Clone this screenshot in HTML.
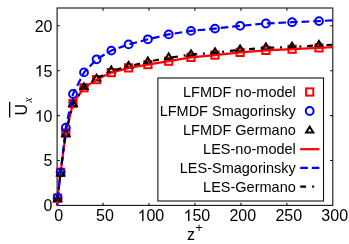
<!DOCTYPE html>
<html><head><meta charset="utf-8"><style>
html,body{margin:0;padding:0;background:#fff}
svg{display:block}
text{font-family:"Liberation Sans",sans-serif;fill:#000}
</style></head><body>
<svg width="349" height="244" viewBox="0 0 349 244" style="will-change:transform;opacity:0.999">
<rect width="349" height="244" fill="#fff"/>
<rect x="57.1" y="8.0" width="275.7" height="197.4" fill="none" stroke="#111" stroke-width="1.1"/>
<path d="M103.1,205.4 v-2.7 M103.1,8.0 v2.7" stroke="#111" stroke-width="1.1"/>
<path d="M149.0,205.4 v-2.7 M149.0,8.0 v2.7" stroke="#111" stroke-width="1.1"/>
<path d="M194.9,205.4 v-2.7 M194.9,8.0 v2.7" stroke="#111" stroke-width="1.1"/>
<path d="M240.9,205.4 v-2.7 M240.9,8.0 v2.7" stroke="#111" stroke-width="1.1"/>
<path d="M286.9,205.4 v-2.7 M286.9,8.0 v2.7" stroke="#111" stroke-width="1.1"/>
<path d="M57.1,160.5 h2.7 M332.8,160.5 h-2.7" stroke="#111" stroke-width="1.1"/>
<path d="M57.1,115.6 h2.7 M332.8,115.6 h-2.7" stroke="#111" stroke-width="1.1"/>
<path d="M57.1,70.7 h2.7 M332.8,70.7 h-2.7" stroke="#111" stroke-width="1.1"/>
<path d="M57.1,25.8 h2.7 M332.8,25.8 h-2.7" stroke="#111" stroke-width="1.1"/>
<rect x="54.0" y="194.4" width="7.2" height="7.2" fill="none" stroke="#f00" stroke-width="2.0"/>
<rect x="57.0" y="168.7" width="7.2" height="7.2" fill="none" stroke="#f00" stroke-width="2.0"/>
<rect x="62.2" y="129.3" width="7.2" height="7.2" fill="none" stroke="#f00" stroke-width="2.0"/>
<rect x="69.4" y="99.8" width="7.2" height="7.2" fill="none" stroke="#f00" stroke-width="2.0"/>
<rect x="80.4" y="84.2" width="7.2" height="7.2" fill="none" stroke="#f00" stroke-width="2.0"/>
<rect x="93.0" y="76.0" width="7.2" height="7.2" fill="none" stroke="#f00" stroke-width="2.0"/>
<rect x="107.7" y="69.0" width="7.2" height="7.2" fill="none" stroke="#f00" stroke-width="2.0"/>
<rect x="125.0" y="64.3" width="7.2" height="7.2" fill="none" stroke="#f00" stroke-width="2.0"/>
<rect x="144.3" y="61.0" width="7.2" height="7.2" fill="none" stroke="#f00" stroke-width="2.0"/>
<rect x="165.1" y="57.6" width="7.2" height="7.2" fill="none" stroke="#f00" stroke-width="2.0"/>
<rect x="187.4" y="53.8" width="7.2" height="7.2" fill="none" stroke="#f00" stroke-width="2.0"/>
<rect x="211.4" y="51.5" width="7.2" height="7.2" fill="none" stroke="#f00" stroke-width="2.0"/>
<rect x="236.5" y="48.8" width="7.2" height="7.2" fill="none" stroke="#f00" stroke-width="2.0"/>
<rect x="262.3" y="46.8" width="7.2" height="7.2" fill="none" stroke="#f00" stroke-width="2.0"/>
<rect x="288.5" y="45.6" width="7.2" height="7.2" fill="none" stroke="#f00" stroke-width="2.0"/>
<rect x="315.4" y="44.3" width="7.2" height="7.2" fill="none" stroke="#f00" stroke-width="2.0"/>
<circle cx="57.6" cy="198.0" r="3.9" fill="none" stroke="#00f" stroke-width="2.0"/>
<circle cx="60.6" cy="172.3" r="3.9" fill="none" stroke="#00f" stroke-width="2.0"/>
<circle cx="65.8" cy="127.7" r="3.9" fill="none" stroke="#00f" stroke-width="2.0"/>
<circle cx="73.0" cy="94.0" r="3.9" fill="none" stroke="#00f" stroke-width="2.0"/>
<circle cx="84.0" cy="72.4" r="3.9" fill="none" stroke="#00f" stroke-width="2.0"/>
<circle cx="96.6" cy="59.3" r="3.9" fill="none" stroke="#00f" stroke-width="2.0"/>
<circle cx="111.3" cy="50.6" r="3.9" fill="none" stroke="#00f" stroke-width="2.0"/>
<circle cx="128.6" cy="44.4" r="3.9" fill="none" stroke="#00f" stroke-width="2.0"/>
<circle cx="147.9" cy="39.3" r="3.9" fill="none" stroke="#00f" stroke-width="2.0"/>
<circle cx="168.7" cy="34.4" r="3.9" fill="none" stroke="#00f" stroke-width="2.0"/>
<circle cx="191.0" cy="30.9" r="3.9" fill="none" stroke="#00f" stroke-width="2.0"/>
<circle cx="215.0" cy="28.6" r="3.9" fill="none" stroke="#00f" stroke-width="2.0"/>
<circle cx="240.1" cy="25.8" r="3.9" fill="none" stroke="#00f" stroke-width="2.0"/>
<circle cx="265.9" cy="23.5" r="3.9" fill="none" stroke="#00f" stroke-width="2.0"/>
<circle cx="292.1" cy="22.2" r="3.9" fill="none" stroke="#00f" stroke-width="2.0"/>
<circle cx="319.0" cy="21.1" r="3.9" fill="none" stroke="#00f" stroke-width="2.0"/>
<path d="M57.6,195.5 L61.2,201.3 L54.0,201.3 Z" fill="none" stroke="#000" stroke-width="2.0"/>
<path d="M60.6,169.8 L64.2,175.6 L57.0,175.6 Z" fill="none" stroke="#000" stroke-width="2.0"/>
<path d="M65.8,130.4 L69.4,136.2 L62.2,136.2 Z" fill="none" stroke="#000" stroke-width="2.0"/>
<path d="M73.0,100.1 L76.6,105.9 L69.4,105.9 Z" fill="none" stroke="#000" stroke-width="2.0"/>
<path d="M84.0,83.3 L87.6,89.1 L80.4,89.1 Z" fill="none" stroke="#000" stroke-width="2.0"/>
<path d="M96.6,74.7 L100.2,80.5 L93.0,80.5 Z" fill="none" stroke="#000" stroke-width="2.0"/>
<path d="M111.3,66.5 L114.9,72.3 L107.7,72.3 Z" fill="none" stroke="#000" stroke-width="2.0"/>
<path d="M128.6,62.0 L132.2,67.8 L125.0,67.8 Z" fill="none" stroke="#000" stroke-width="2.0"/>
<path d="M147.9,57.5 L151.5,63.3 L144.3,63.3 Z" fill="none" stroke="#000" stroke-width="2.0"/>
<path d="M168.7,53.5 L172.3,59.3 L165.1,59.3 Z" fill="none" stroke="#000" stroke-width="2.0"/>
<path d="M191.0,50.3 L194.6,56.1 L187.4,56.1 Z" fill="none" stroke="#000" stroke-width="2.0"/>
<path d="M215.0,48.3 L218.6,54.1 L211.4,54.1 Z" fill="none" stroke="#000" stroke-width="2.0"/>
<path d="M240.1,45.5 L243.7,51.3 L236.5,51.3 Z" fill="none" stroke="#000" stroke-width="2.0"/>
<path d="M265.9,43.5 L269.5,49.3 L262.3,49.3 Z" fill="none" stroke="#000" stroke-width="2.0"/>
<path d="M292.1,42.7 L295.7,48.5 L288.5,48.5 Z" fill="none" stroke="#000" stroke-width="2.0"/>
<path d="M319.0,41.0 L322.6,46.8 L315.4,46.8 Z" fill="none" stroke="#000" stroke-width="2.0"/>
<path d="M57.3,205.4 L57.6,198.0 L60.6,172.3 L65.8,132.9 L73.0,103.4 L84.0,87.8 L96.6,79.6 L111.3,72.6 L128.6,67.9 L147.9,64.6 L168.7,61.2 L191.0,57.4 L215.0,55.1 L240.1,52.4 L265.9,50.4 L292.1,49.2 L319.0,47.9 L332.8,47.2" fill="none" stroke="#f00" stroke-width="2.2" stroke-linejoin="round"/>
<path d="M57.3,205.4 L57.6,198.0 L60.6,172.3 L65.8,127.7 L73.0,94.0 L84.0,72.4 L96.6,59.3 L111.3,50.6 L128.6,44.4 L147.9,39.3 L168.7,34.4 L191.0,30.9 L215.0,28.6 L240.1,25.8 L265.9,23.5 L292.1,22.2 L319.0,21.1 L332.8,20.3" fill="none" stroke="#00f" stroke-width="2.2" stroke-dasharray="7.7,3.9" stroke-dashoffset="5.75" stroke-linejoin="round"/>
<path d="M57.3,205.4 L57.6,198.0 L60.6,172.3 L65.8,132.9 L73.0,103.6 L84.0,87.1 L96.6,78.6 L111.3,70.8 L128.6,66.3 L147.9,61.8 L168.7,57.8 L191.0,54.6 L215.0,52.6 L240.1,49.8 L265.9,47.8 L292.1,47.0 L319.0,45.3 L332.8,44.7" fill="none" stroke="#000" stroke-width="2.2" stroke-dasharray="5.8,5.8,1.95,5.8" stroke-dashoffset="14.91" stroke-linejoin="round"/>
<text x="54.35" y="221.00" font-size="16">0</text>
<text x="96.05" y="221.00" font-size="16">5</text><text x="104.95" y="221.00" font-size="16">0</text>
<path transform="translate(137.55,221.00) scale(0.0078125,-0.0078125)" d="M763 0H583V1147Q518 1085 412.5 1023T223 930V1104Q375 1175.5 488.5 1277T649 1474H763Z" fill="#000"/><text x="146.45" y="221.00" font-size="16">0</text><text x="155.35" y="221.00" font-size="16">0</text>
<path transform="translate(183.50,221.00) scale(0.0078125,-0.0078125)" d="M763 0H583V1147Q518 1085 412.5 1023T223 930V1104Q375 1175.5 488.5 1277T649 1474H763Z" fill="#000"/><text x="192.40" y="221.00" font-size="16">5</text><text x="201.30" y="221.00" font-size="16">0</text>
<text x="229.45" y="221.00" font-size="16">2</text><text x="238.35" y="221.00" font-size="16">0</text><text x="247.25" y="221.00" font-size="16">0</text>
<text x="275.40" y="221.00" font-size="16">2</text><text x="284.30" y="221.00" font-size="16">5</text><text x="293.20" y="221.00" font-size="16">0</text>
<text x="321.35" y="221.00" font-size="16">3</text><text x="330.25" y="221.00" font-size="16">0</text><text x="339.15" y="221.00" font-size="16">0</text>
<text x="43.60" y="211.30" font-size="16">0</text>
<text x="43.60" y="166.40" font-size="16">5</text>
<path transform="translate(34.70,121.50) scale(0.0078125,-0.0078125)" d="M763 0H583V1147Q518 1085 412.5 1023T223 930V1104Q375 1175.5 488.5 1277T649 1474H763Z" fill="#000"/><text x="43.60" y="121.50" font-size="16">0</text>
<path transform="translate(34.70,76.60) scale(0.0078125,-0.0078125)" d="M763 0H583V1147Q518 1085 412.5 1023T223 930V1104Q375 1175.5 488.5 1277T649 1474H763Z" fill="#000"/><text x="43.60" y="76.60" font-size="16">5</text>
<text x="34.70" y="31.70" font-size="16">2</text><text x="43.60" y="31.70" font-size="16">0</text>
<text x="187.0" y="239.8" font-size="16">z</text>
<text x="195.2" y="232.3" font-size="13">+</text>
<g transform="translate(27,115.6) rotate(-90)"><text x="0" y="0" font-size="16">U</text><text x="13" y="4.5" font-size="11.5" font-style="italic" style="font-family:'Liberation Serif',serif">x</text><rect x="-1.9" y="-18" width="15.7" height="1.3" fill="#000"/></g>
<rect x="157.9" y="78.0" width="165.6" height="123.0" fill="#fff" stroke="#111" stroke-width="1.1"/>
<text x="295.8" y="96.6" font-size="14.5" text-anchor="end">LFMDF no-model</text>
<text x="295.8" y="115.6" font-size="14.5" text-anchor="end">LFMDF Smagorinsky</text>
<text x="295.8" y="134.6" font-size="14.5" text-anchor="end">LFMDF Germano</text>
<text x="295.8" y="153.6" font-size="14.5" text-anchor="end">LES-no-model</text>
<text x="295.8" y="172.6" font-size="14.5" text-anchor="end">LES-Smagorinsky</text>
<text x="295.8" y="191.6" font-size="14.5" text-anchor="end">LES-Germano</text>
<rect x="306.1" y="88.4" width="7.2" height="7.2" fill="none" stroke="#f00" stroke-width="2.0"/>
<circle cx="309.7" cy="111.0" r="3.9" fill="none" stroke="#00f" stroke-width="2.0"/>
<path d="M309.7,126.7 L313.3,132.5 L306.1,132.5 Z" fill="none" stroke="#000" stroke-width="2.0"/>
<path d="M300.2,149.2 H319.4" stroke="#f00" stroke-width="2.2"/>
<path d="M300.2,167.8 H319.4" stroke="#00f" stroke-width="2.2" stroke-dasharray="7.7,3.9"/>
<path d="M300.2,186.7 H319.4" stroke="#000" stroke-width="2.2" stroke-dasharray="5.8,6.2,1.9,7.5"/>
</svg></body></html>
